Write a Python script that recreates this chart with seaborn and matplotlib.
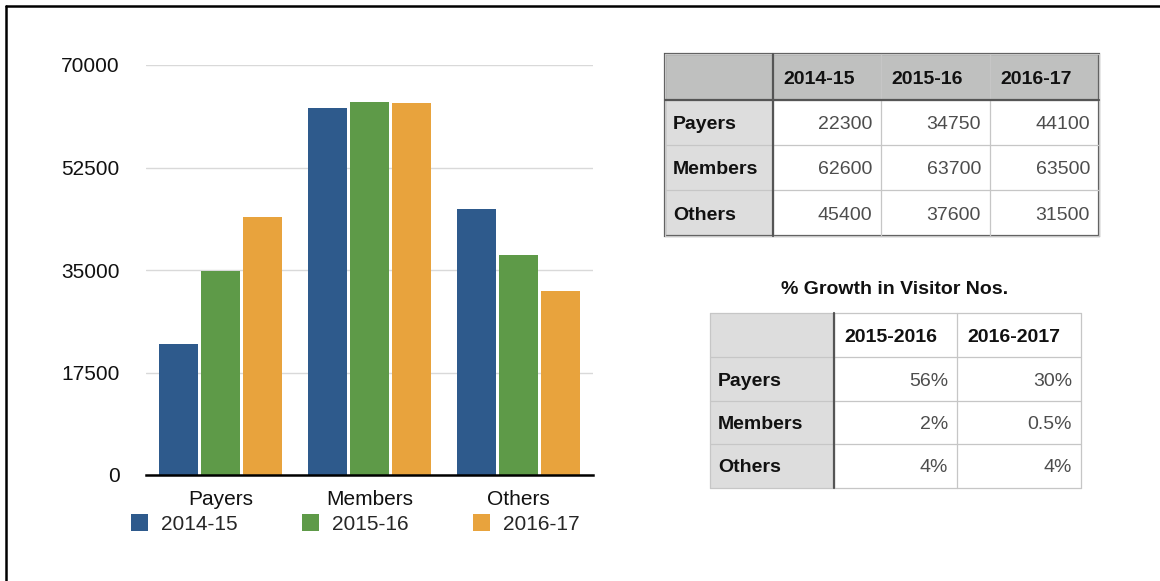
import numpy as np
import pandas as pd
import matplotlib
matplotlib.use('Agg')
import matplotlib.pyplot as plt
from matplotlib.patches import Rectangle
import seaborn as sns

# Visitor numbers per group and year
categories = ['Payers', 'Members', 'Others']
years = ['2014-15', '2015-16', '2016-17']
visitors_2014_15 = [22300, 62600, 45400]
visitors_2015_16 = [34750, 63700, 37600]
visitors_2016_17 = [44100, 63500, 31500]
y_ticks = [0, 17500, 35000, 52500, 70000]

# Growth table
growth_title = '% Growth in Visitor Nos.'
growth_periods = ['2015-2016', '2016-2017']
growth_2015_16 = ['56%', '2%', '4%']
growth_2016_17 = ['30%', '0.5%', '4%']

bar_colors = ['#2e5a8c', '#5e9a48', '#e8a33d']

sns.set_style('white')
plt.rcParams['font.family'] = ['Liberation Sans', 'DejaVu Sans']

W, H = 1160, 581
fig = plt.figure(figsize=(W / 100, H / 100), dpi=100)

# ---- bar chart ----
ax = fig.add_axes([146 / W, 1 - 475 / H, (593 - 146) / W, (475 - 65) / H])

series = [visitors_2014_15, visitors_2015_16, visitors_2016_17]
rows = []
for year, vals in zip(years, series):
    for cat, v in zip(categories, vals):
        rows.append({'Category': cat, 'Year': year, 'Visitors': v})
df = pd.DataFrame(rows)

sns.barplot(data=df, x='Category', y='Visitors', hue='Year', palette=bar_colors,
            saturation=1, width=0.85, gap=0.08, linewidth=0, ax=ax, zorder=3)
handles, labels = ax.get_legend_handles_labels()
ax.get_legend().remove()

ax.set_xlim(-0.5, 2.5)
ax.set_ylim(0, 70000)
ax.set_yticks(y_ticks)
ax.set_yticklabels([str(t) for t in y_ticks])
ax.yaxis.grid(True, color='#d9d9d9', linewidth=1.0, zorder=0)
ax.xaxis.grid(False)
ax.set_axisbelow(True)
ax.set_xlabel('')
ax.set_ylabel('')
for side in ['left', 'top', 'right']:
    ax.spines[side].set_visible(False)
ax.spines['bottom'].set_color('black')
ax.spines['bottom'].set_linewidth(1.8)
ax.spines['bottom'].set_zorder(5)
ax.tick_params(axis='y', length=0, pad=19, labelsize=15, labelcolor='#111111')
ax.tick_params(axis='x', length=0, pad=11, labelsize=15, labelcolor='#111111')

fig.legend(handles, labels, loc='center left', bbox_to_anchor=(131 / W, 1 - 524 / H),
           ncol=3, frameon=False, fontsize=15, borderpad=0, borderaxespad=0,
           handlelength=0.82, handleheight=0.82, handletextpad=0.62, columnspacing=3.1)

# ---- overlay for tables and frame ----
ov = fig.add_axes([0, 0, 1, 1], zorder=-1)
ov.set_xlim(0, W)
ov.set_ylim(H, 0)
ov.axis('off')

ov.plot([6, 6], [6, H], color='black', lw=1.8)
ov.plot([6, W], [6, 6], color='black', lw=1.8)

LIGHT = '#c6c6c6'
DARK = '#555555'
LABEL_BG = '#dddddd'


def draw_table(xs, ys, col_heads, row_heads, body, corner_bg, head_bg, dark_h, dark_v, dark_box):
    nrow, ncol = len(ys) - 1, len(xs) - 1
    for r in range(nrow):
        for c in range(ncol):
            if r == 0 and c == 0:
                fc = corner_bg
            elif r == 0:
                fc = head_bg
            elif c == 0:
                fc = LABEL_BG
            else:
                fc = 'white'
            ov.add_patch(Rectangle((xs[c], ys[r]), xs[c + 1] - xs[c], ys[r + 1] - ys[r],
                                   facecolor=fc, edgecolor='none'))
    for y in ys:
        ov.plot([xs[0], xs[-1]], [y, y], color=LIGHT, lw=0.9)
    for x in xs:
        ov.plot([x, x], [ys[0], ys[-1]], color=LIGHT, lw=0.9)
    for y in dark_h:
        ov.plot([xs[0], xs[-1]], [y, y], color=DARK, lw=1.6)
    for x in dark_v:
        ov.plot([x, x], [ys[0], ys[-1]], color=DARK, lw=1.6)
    if dark_box:
        ov.add_patch(Rectangle((xs[0], ys[0]), xs[-1] - xs[0], ys[-1] - ys[0],
                               facecolor='none', edgecolor=DARK, lw=1.6))
    for c, txt in enumerate(col_heads):
        ov.text(xs[c + 1] + 10, (ys[0] + ys[1]) / 2, txt, fontsize=14, fontweight='bold',
                ha='left', va='center_baseline', color='#111111')
    for r, txt in enumerate(row_heads):
        ov.text(xs[0] + 8, (ys[r + 1] + ys[r + 2]) / 2, txt, fontsize=14, fontweight='bold',
                ha='left', va='center_baseline', color='#111111')
    for c, col in enumerate(body):
        for r, txt in enumerate(col):
            ov.text(xs[c + 2] - 9, (ys[r + 1] + ys[r + 2]) / 2, txt, fontsize=14,
                    ha='right', va='center_baseline', color='#4d4d4d')


# table 1: raw visitor numbers
draw_table([665, 773, 881, 990, 1099], [54, 100, 145, 190, 236], years, categories,
           [[str(v) for v in s] for s in series],
           corner_bg='#bfc0bf', head_bg='#bfc0bf', dark_h=[100], dark_v=[773], dark_box=True)

# table 2: growth
ov.text(895, 287, growth_title, fontsize=14, fontweight='bold', ha='center',
        va='center_baseline', color='#111111')
draw_table([710, 834, 957, 1081], [313, 357, 401, 444, 488], growth_periods, categories,
           [growth_2015_16, growth_2016_17],
           corner_bg=LABEL_BG, head_bg='white', dark_h=[], dark_v=[834], dark_box=False)

fig.savefig('out.png', dpi=100)
